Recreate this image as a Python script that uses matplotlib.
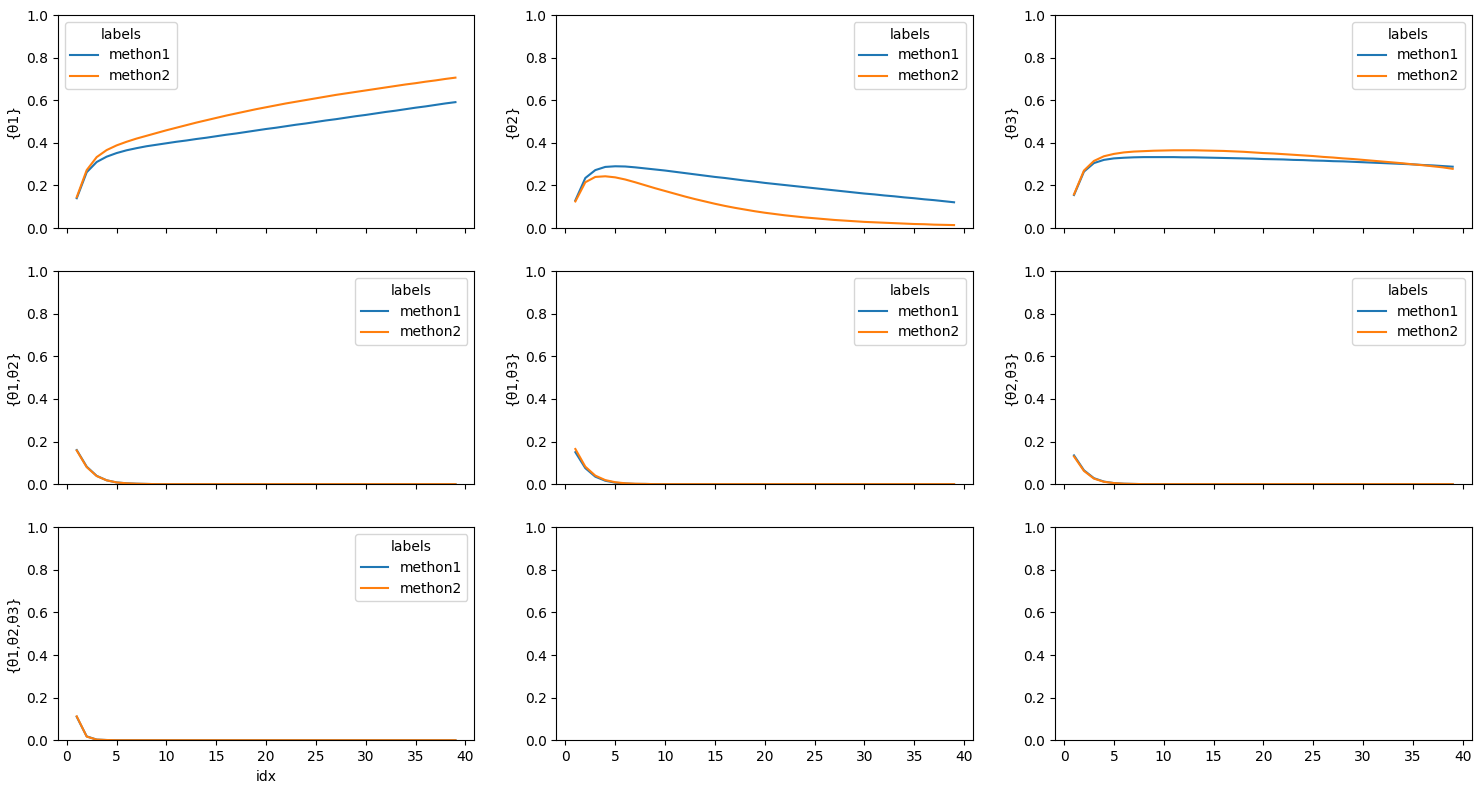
import matplotlib
matplotlib.use('Agg')
import matplotlib.pyplot as plt

idx = list(range(1, 40))
labels = ['methon1', 'methon2']
names = ['{θ1}', '{θ2}', '{θ3}', '{θ1,θ2}', '{θ1,θ3}', '{θ2,θ3}', '{θ1,θ2,θ3}']

# {θ1}
t1_m1 = [0.140, 0.262, 0.310, 0.335, 0.352, 0.365, 0.375, 0.384, 0.391, 0.398,
         0.405, 0.411, 0.418, 0.424, 0.431, 0.438, 0.444, 0.451, 0.458, 0.465,
         0.471, 0.478, 0.485, 0.491, 0.498, 0.505, 0.511, 0.518, 0.525, 0.531,
         0.538, 0.545, 0.551, 0.558, 0.565, 0.571, 0.578, 0.585, 0.591]
t1_m2 = [0.145, 0.272, 0.333, 0.366, 0.388, 0.405, 0.420, 0.433, 0.446, 0.459,
         0.471, 0.483, 0.495, 0.506, 0.517, 0.528, 0.538, 0.548, 0.558, 0.567,
         0.576, 0.585, 0.593, 0.601, 0.609, 0.617, 0.625, 0.632, 0.639, 0.646,
         0.653, 0.660, 0.667, 0.674, 0.680, 0.687, 0.693, 0.700, 0.706]
# {θ2}
t2_m1 = [0.130, 0.235, 0.272, 0.287, 0.290, 0.289, 0.285, 0.280, 0.275, 0.270,
         0.264, 0.258, 0.252, 0.246, 0.240, 0.235, 0.229, 0.223, 0.218, 0.212,
         0.207, 0.202, 0.197, 0.192, 0.187, 0.182, 0.177, 0.172, 0.167, 0.162,
         0.158, 0.153, 0.149, 0.144, 0.140, 0.135, 0.131, 0.126, 0.121]
t2_m2 = [0.125, 0.215, 0.240, 0.243, 0.238, 0.228, 0.215, 0.201, 0.187, 0.174,
         0.161, 0.148, 0.136, 0.125, 0.114, 0.104, 0.095, 0.087, 0.079, 0.072,
         0.066, 0.060, 0.055, 0.050, 0.046, 0.042, 0.038, 0.035, 0.032, 0.029,
         0.027, 0.025, 0.023, 0.021, 0.019, 0.018, 0.016, 0.015, 0.014]
# {θ3}
t3_m1 = [0.155, 0.265, 0.305, 0.320, 0.327, 0.330, 0.332, 0.333, 0.333, 0.333,
         0.333, 0.332, 0.332, 0.331, 0.330, 0.329, 0.328, 0.327, 0.326, 0.324,
         0.323, 0.322, 0.320, 0.319, 0.317, 0.316, 0.314, 0.313, 0.311, 0.309,
         0.307, 0.305, 0.303, 0.301, 0.299, 0.296, 0.294, 0.291, 0.288]
t3_m2 = [0.158, 0.270, 0.315, 0.337, 0.348, 0.355, 0.359, 0.361, 0.363, 0.364,
         0.365, 0.365, 0.365, 0.364, 0.363, 0.362, 0.360, 0.358, 0.355, 0.352,
         0.350, 0.347, 0.344, 0.341, 0.338, 0.334, 0.331, 0.327, 0.324, 0.320,
         0.316, 0.312, 0.308, 0.304, 0.299, 0.295, 0.290, 0.285, 0.278]
# pairs / triple
zeros = [0.0] * 31
t12_m1 = [0.160, 0.082, 0.039, 0.018, 0.008, 0.004, 0.002, 0.001] + zeros
t12_m2 = [0.158, 0.080, 0.038, 0.018, 0.008, 0.004, 0.002, 0.001] + zeros
t13_m1 = [0.150, 0.075, 0.035, 0.016, 0.007, 0.003, 0.001, 0.001] + zeros
t13_m2 = [0.165, 0.082, 0.040, 0.019, 0.009, 0.004, 0.002, 0.001] + zeros
t23_m1 = [0.135, 0.065, 0.028, 0.012, 0.005, 0.002, 0.001, 0.000] + zeros
t23_m2 = [0.130, 0.062, 0.026, 0.011, 0.005, 0.002, 0.001, 0.000] + zeros
t123_m1 = [0.110, 0.018, 0.003, 0.001, 0.000, 0.000, 0.000, 0.000] + zeros
t123_m2 = [0.112, 0.017, 0.003, 0.001, 0.000, 0.000, 0.000, 0.000] + zeros

series = [(t1_m1, t1_m2), (t2_m1, t2_m2), (t3_m1, t3_m2),
          (t12_m1, t12_m2), (t13_m1, t13_m2), (t23_m1, t23_m2),
          (t123_m1, t123_m2)]

fig, axes = plt.subplots(3, 3, figsize=(14.82, 7.9), dpi=100, sharex=True)
axes = axes.flatten()
for i, ax in enumerate(axes):
    ax.set_ylim(0, 1)
    if i < len(series):
        for lab, vals in zip(labels, series[i]):
            ax.plot(idx, vals, label=lab)
        ax.set_ylabel(names[i])
        ax.legend(title='labels', loc='upper left' if i == 0 else 'upper right')
    else:
        ax.set_xlim(axes[0].get_xlim())
axes[6].set_xlabel('idx')
fig.subplots_adjust(left=0.039, right=0.993, top=0.981, bottom=0.063,
                    wspace=0.197, hspace=0.202)
plt.savefig('out.png')
